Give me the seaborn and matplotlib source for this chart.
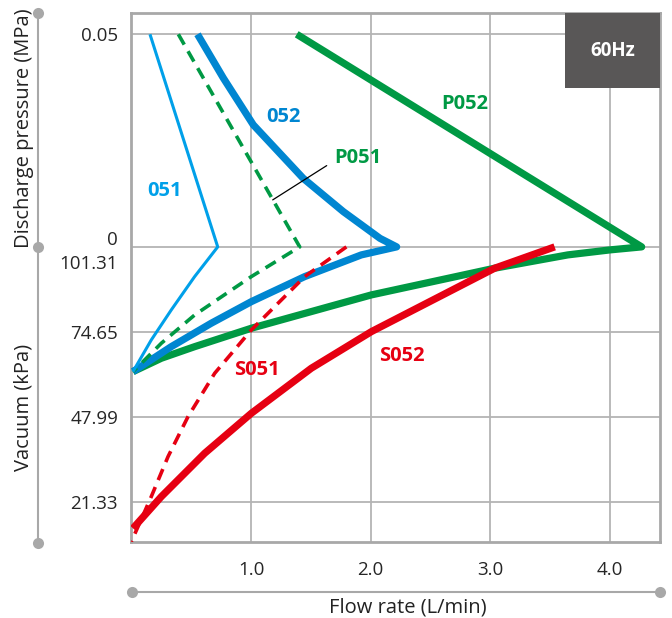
import matplotlib
matplotlib.use('Agg')
import matplotlib.pyplot as plt
import seaborn as sns
import pandas as pd
from matplotlib.lines import Line2D
from matplotlib.patches import Rectangle

# Veriler: debi (L/min), basma basinci (MPa) ve vakum (kPa)
# discharge kismi: tepeden sifir basinca, vakum kismi: sifirdan sifir debiye
d051_flow = [0.156, 0.722]
d051_mpa = [0.05, 0.0]
v051_flow = [0.722, 0.529, 0.334, 0.167, 0.014]
v051_kpa = [101.31, 91.99, 81.55, 72.14, 62.2]

d052_flow = [0.553, 0.769, 1.019, 1.437, 1.771, 2.078, 2.217]
d052_mpa = [0.05, 0.0397, 0.0287, 0.0161, 0.0083, 0.0020, 0.0]
v052_flow = [2.217, 1.922, 1.449, 1.003, 0.668, 0.334, 0.014]
v052_kpa = [101.31, 98.80, 92.0, 84.15, 77.38, 70.04, 62.2]

dP051_flow = [0.393, 1.407]
dP051_mpa = [0.05, 0.0]
vP051_flow = [1.407, 1.003, 0.530, 0.251, 0.014]
vP051_kpa = [101.31, 92.0, 79.99, 71.11, 62.2]

dP052_flow = [1.382, 4.264]
dP052_mpa = [0.05, 0.0]
vP052_flow = [4.264, 4.0, 3.647, 3.036, 2.006, 1.003, 0.530, 0.251, 0.014]
vP052_kpa = [101.31, 100.37, 98.80, 94.63, 86.26, 75.81, 70.04, 66.40, 62.2]

vS051_flow = [1.797, 1.449, 1.003, 0.697, 0.474, 0.307, 0.167, 0.056, 0.0]
vS051_kpa = [101.31, 92.0, 75.28, 61.70, 48.11, 35.57, 23.03, 13.60, 8.9]

vS052_flow = [3.537, 3.036, 2.006, 1.504, 1.003, 0.613, 0.251, 0.014]
vS052_kpa = [101.31, 94.63, 74.75, 63.27, 49.15, 36.61, 23.03, 13.08]

y_ticks_kpa = [101.31, 74.65, 47.99, 21.33]
x_ticks = [1.0, 2.0, 3.0, 4.0]

# vakum ekseni: 26.66 kPa = 0.02 birim (grafikteki olcek)
def vac_pos(kpa):
    return [-(101.31 - k) * 0.02 / 26.66 for k in kpa]

series = {
    '051': (d051_flow + v051_flow[1:], d051_mpa + vac_pos(v051_kpa)[1:]),
    '052': (d052_flow + v052_flow[1:], d052_mpa + vac_pos(v052_kpa)[1:]),
    'P051': (dP051_flow + vP051_flow[1:], dP051_mpa + vac_pos(vP051_kpa)[1:]),
    'P052': (dP052_flow + vP052_flow[1:], dP052_mpa + vac_pos(vP052_kpa)[1:]),
    'S051': (vS051_flow, vac_pos(vS051_kpa)),
    'S052': (vS052_flow, vac_pos(vS052_kpa)),
}

rows = []
for name, (xs, ys) in series.items():
    for i, (x, y) in enumerate(zip(xs, ys)):
        rows.append({'seri': name, 'sira': i, 'debi': x, 'konum': y})
df = pd.DataFrame(rows)

BLUE_L = '#00a0e9'
BLUE = '#0086d1'
GREEN = '#009944'
RED = '#e60012'
GRAY = '#a8a8a8'

styles = {
    '051': dict(color=BLUE_L, lw=2.2, ls='-'),
    '052': dict(color=BLUE, lw=5.2, ls='-'),
    'P051': dict(color=GREEN, lw=2.6, ls=(0, (3.3, 2.1))),
    'P052': dict(color=GREEN, lw=5.2, ls='-'),
    'S051': dict(color=RED, lw=2.6, ls=(0, (3.3, 2.1))),
    'S052': dict(color=RED, lw=5.2, ls='-'),
}

sns.set_style('white')
plt.rcParams['font.family'] = ['Open Sans', 'DejaVu Sans']

fig = plt.figure(figsize=(6.72, 6.18), dpi=100)
ax = fig.add_axes([131.3 / 672, 1 - 542 / 618, (660 - 131.3) / 672, (542 - 13) / 618])

for name in ['P052', 'S052', '052', 'P051', 'S051', '051']:
    st = styles[name]
    sns.lineplot(data=df[df['seri'] == name], x='debi', y='konum', sort=False,
                 estimator=None, color=st['color'], linewidth=st['lw'],
                 linestyle=st['ls'], ax=ax, legend=False, zorder=3,
                 solid_capstyle='butt', solid_joinstyle='round',
                 dash_capstyle='butt', dash_joinstyle='round')

ax.set_xlim(0, 4.417)
ax.set_ylim(-0.0694, 0.0550)
ax.set_xticks(x_ticks)
ax.set_xticklabels([f'{v:.1f}' for v in x_ticks])
y_pos = [0.05] + vac_pos(y_ticks_kpa)
ax.set_yticks(y_pos)
ax.set_yticklabels(['0.05', '0\n101.31'] + [f'{v:.2f}' for v in y_ticks_kpa[1:]],
                   linespacing=1.45)
ax.tick_params(axis='y', length=4.5, width=1.3, color=GRAY, pad=5, labelsize=13.5)
ax.tick_params(axis='x', length=9, width=1.3, color=GRAY, pad=5, labelsize=13.5)
ax.grid(True, color='#b4b4b4', lw=1.3, zorder=1)
ax.set_xlabel('')
ax.set_ylabel('')
for sp in ax.spines.values():
    sp.set_color(GRAY)
    sp.set_linewidth(2)

# etiketler
lbl = dict(fontsize=14.5, fontweight='bold', ha='center', va='center', zorder=5)
ax.text((165 - 131.3) / 119.7, 0.05 * (247 - 191) / 212.7, '051', color=BLUE_L, **lbl)
ax.text((283 - 131.3) / 119.7, 0.05 * (247 - 117) / 212.7, '052', color=BLUE, **lbl)
ax.text((358 - 131.3) / 119.7, 0.05 * (247 - 158) / 212.7, 'P051', color=GREEN, **lbl)
ax.text((465 - 131.3) / 119.7, 0.05 * (247 - 104) / 212.7, 'P052', color=GREEN, **lbl)
ax.text((257 - 131.3) / 119.7, 0.05 * (247 - 370) / 212.7, 'S051', color=RED, **lbl)
ax.text((402 - 131.3) / 119.7, 0.05 * (247 - 356) / 212.7, 'S052', color=RED, **lbl)
ax.plot([(326.7 - 131.3) / 119.7, (272.7 - 131.3) / 119.7],
        [0.05 * (247 - 165.7) / 212.7, 0.05 * (247 - 200) / 212.7],
        color='black', lw=0.9, zorder=4)

# 60Hz kutusu
ax.add_patch(Rectangle((0.820, 0.858), 0.18, 0.142, transform=ax.transAxes,
                       facecolor='#595757', edgecolor='none', zorder=6, clip_on=False))
ax.text(0.91, 0.929, '60Hz', transform=ax.transAxes, color='white', fontsize=13.5,
        fontweight='bold', ha='center', va='center', zorder=7)

# eksen cizgileri ve basliklar (sekil koordinatlari)
W, H = 672, 618
def fx(px):
    return px / W
def fy(py):
    return 1 - py / H

fig.add_artist(Line2D([fx(38), fx(38)], [fy(13), fy(543)], color=GRAY, lw=1.5))
fig.add_artist(Line2D([fx(38)] * 3, [fy(13), fy(247), fy(543)], color=GRAY, lw=0,
                      marker='o', markersize=8, markeredgewidth=0))
fig.add_artist(Line2D([fx(132), fx(660)], [fy(592), fy(592)], color=GRAY, lw=1.5))
fig.add_artist(Line2D([fx(132), fx(660)], [fy(592), fy(592)], color=GRAY, lw=0,
                      marker='o', markersize=8, markeredgewidth=0))
fig.text(fx(24), fy(128), 'Discharge pressure (MPa)', rotation=90, ha='center',
         va='center', fontsize=14.5, color='#222222')
fig.text(fx(24), fy(407), 'Vacuum (kPa)', rotation=90, ha='center', va='center',
         fontsize=14.5, color='#222222')
fig.text(fx(408), fy(607), 'Flow rate (L/min)', ha='center', va='center',
         fontsize=14.5, color='#222222')

fig.savefig('out.png', dpi=100)
